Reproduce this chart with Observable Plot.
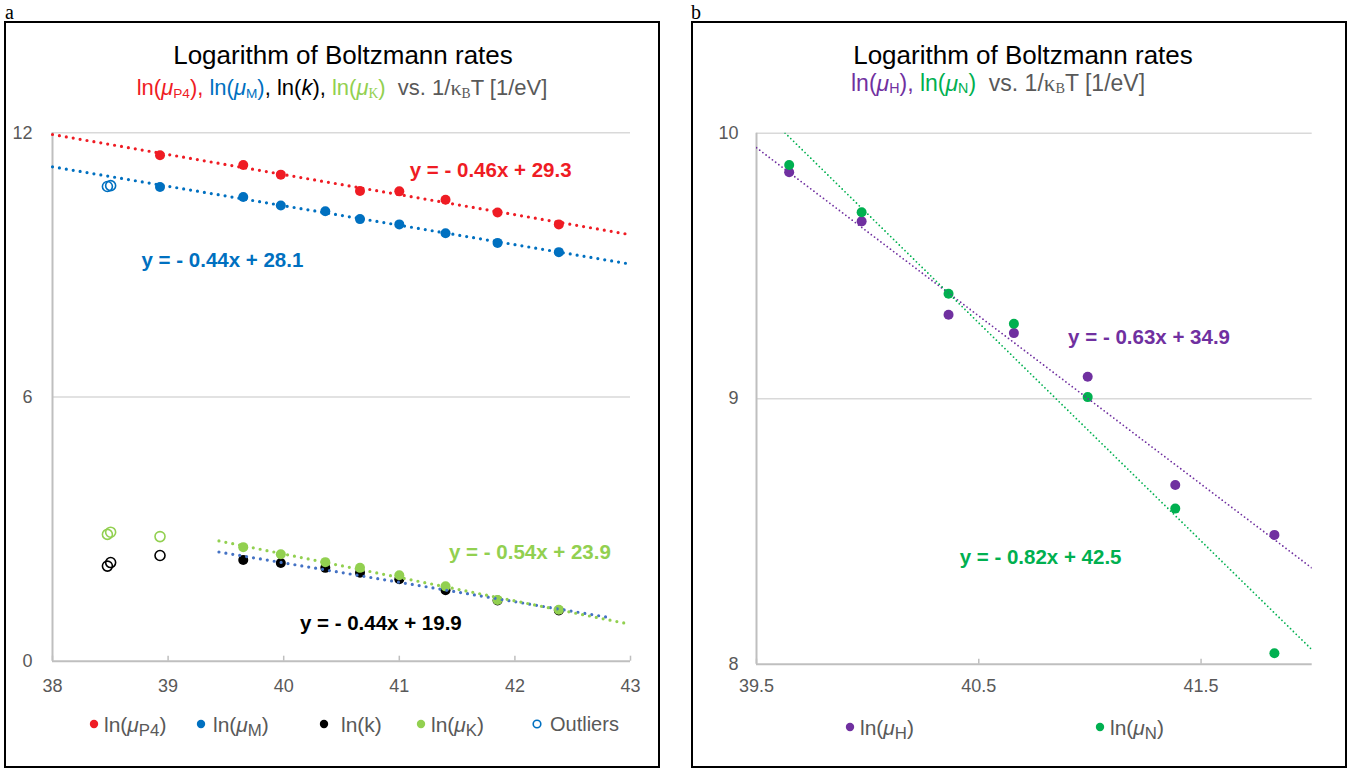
<!DOCTYPE html>
<html>
<head>
<meta charset="utf-8">
<script src="https://cdn.jsdelivr.net/npm/d3@7"></script>
<script src="https://cdn.jsdelivr.net/npm/@observablehq/plot@0.6"></script>
<style>
  body { margin: 0; background: #fff; }
  #page { position: relative; width: 1370px; height: 772px; overflow: hidden; font-family: "Liberation Sans", Arial, sans-serif; }
  .frame { position: absolute; border: 2px solid #000; box-sizing: border-box; }
  .plab { position: absolute; font-family: "Liberation Serif", "Times New Roman", serif; font-size: 20px; line-height: 20px; }
  .title { position: absolute; font-size: 26px; color: #000; white-space: nowrap; transform: translate(-50%, -50%); line-height: 1; }
  .sub { position: absolute; white-space: nowrap; transform: translateY(-50%); line-height: 1; }
  .sub sub { font-size: 0.62em; vertical-align: -0.2em; line-height: 0; }
  .legtxt sub { font-size: 0.8em; vertical-align: -0.25em; line-height: 0; }
  .serif { font-family: "Liberation Serif", "Times New Roman", serif; }
  .chart { position: absolute; top: 0; }
  .legdot { position: absolute; transform: translate(-50%, -50%); }
  .legtxt { position: absolute; font-size: 21px; color: #595959; white-space: nowrap; transform: translateY(-50%); line-height: 1; }
</style>
</head>
<body>
<div id="page">
  <div class="plab" style="left:5px;top:2px">a</div>
  <div class="plab" style="left:691px;top:2px">b</div>
  <div class="frame" style="left:4px;top:21px;width:656px;height:747px"></div>
  <div class="frame" style="left:691px;top:21px;width:656px;height:747px"></div>

  <div class="title" style="left:343px;top:55px">Logarithm of Boltzmann rates</div>
  <div class="sub" id="subA" style="top:88px;font-size:22px">
    <span style="color:#EF1C24">ln(<i>μ</i><sub>P4</sub>),</span>
    <span style="color:#0070C0">ln(<i>μ</i><sub>M</sub>)</span>, ln(<i>k</i>),
    <span style="color:#92D050">ln(<i>μ</i><sub class="serif">K</sub>)</span>&nbsp;
    <span style="color:#595959">vs. 1/<span class="serif">κ<sub>B</sub></span>T [1/eV]</span>
  </div>

  <div class="title" style="left:1023px;top:55px">Logarithm of Boltzmann rates</div>
  <div class="sub" id="subB" style="left:851px;top:83px;font-size:23px">
    <span style="color:#7030A0">ln(<i>μ</i><sub>H</sub>),</span>
    <span style="color:#00B050">ln(<i>μ</i><sub>N</sub>)</span>&nbsp;
    <span style="color:#595959">vs. 1/<span class="serif">κ<sub>B</sub></span>T [1/eV]</span>
  </div>

  <div id="chartA" class="chart" style="left:0px"></div>
  <div id="chartB" class="chart" style="left:690px"></div>
  <div id="legA"></div>
  <div id="legB"></div>
</div>
<script>
// ---------------- data (panel a) ----------------
const xP4 = [38.93, 39.65, 39.975, 40.66, 41.00, 41.40, 41.85, 42.38];
const lnP4 = [11.49, 11.27, 11.05, 10.68, 10.67, 10.48, 10.19, 9.92];

const xM = [38.93, 39.65, 39.975, 40.36, 40.66, 41.00, 41.40, 41.85, 42.38];
const lnM = [10.77, 10.54, 10.35, 10.22, 10.04, 9.92, 9.72, 9.50, 9.29];

const xK = [39.65, 39.975, 40.36, 40.66, 41.00, 41.40, 41.85, 42.38];
const lnk = [2.30, 2.23, 2.12, 2.01, 1.86, 1.61, 1.38, 1.15];
const lnMuK = [2.59, 2.43, 2.25, 2.12, 1.95, 1.70, 1.39, 1.17];

const xOut = [38.475, 38.503, 38.93];
const outM = [10.78, 10.80, null];
const outK = [2.88, 2.93, 2.83];
const outk = [2.16, 2.24, 2.40];

// trendline ranges (forecast extents)
const trendRangeA = { P4: [38, 43], M: [38, 43], k: [39.44, 42.83], K: [39.44, 43] };

const eqA = [
  { text: "y = - 0.46x + 29.3", x: 41.79, y: 11.14, color: "#EF1C24" },
  { text: "y = - 0.44x + 28.1", x: 39.47, y: 9.10, color: "#0070C0" },
  { text: "y = - 0.54x + 23.9", x: 42.13, y: 2.47, color: "#92D050" },
  { text: "y = - 0.44x + 19.9", x: 40.84, y: 0.86, color: "#000000" }
];
const xTicksA = [38, 39, 40, 41, 42, 43];
const yTicksA = [0, 6, 12];

// ---------------- data (panel b) ----------------
const xB = [39.647, 39.973, 40.364, 40.658, 40.99, 41.384, 41.83];
const lnH = [9.853, 9.668, 9.316, 9.247, 9.083, 8.675, 8.487];
const lnN = [9.880, 9.702, 9.395, 9.282, 9.006, 8.586, 8.041];
const trendRangeB = { H: [39.5, 42], N: [39.5, 42] };
const eqB = [
  { text: "y = - 0.63x + 34.9", x: 41.266, y: 9.229, color: "#7030A0" },
  { text: "y = - 0.82x + 42.5", x: 40.778, y: 8.403, color: "#00B050" }
];
const xTicksB = [39.5, 40.5, 41.5];
const yTicksB = [8, 9, 10];

// ---------------- helpers ----------------
const C = { red: "#EF1C24", blue: "#0070C0", black: "#000000", lgreen: "#92D050", tblue: "#4472C4", purple: "#7030A0", green: "#00B050" };
const pts = (xs, ys) => xs.map((x, i) => ({ x, y: ys[i] })).filter(d => d.y != null);
function fit(xs, ys) {
  const mx = d3.mean(xs), my = d3.mean(ys);
  let sxy = 0, sxx = 0;
  xs.forEach((x, i) => { sxy += (x - mx) * (ys[i] - my); sxx += (x - mx) ** 2; });
  const b = sxy / sxx;
  return { a: my - b * mx, b };
}
function trend(xs, ys, range) {
  const { a, b } = fit(xs, ys);
  return range.map(x => ({ x, y: a + b * x }));
}
const font = "Liberation Sans, Arial, sans-serif";
const eqFont = "Liberation Sans, Arial, sans-serif";
const dotA = { strokeWidth: 3.2, strokeDasharray: "0,7", strokeLinecap: "round" };
const dotB = { strokeWidth: 1.8, strokeDasharray: "0,4", strokeLinecap: "round" };

// ---------------- panel a ----------------
const chartA = Plot.plot({
  width: 680, height: 772,
  marginLeft: 52, marginRight: 50, marginTop: 132.3, marginBottom: 111.3,
  x: { domain: [38, 43], label: null },
  y: { domain: [0, 12], label: null },
  style: { fontFamily: font, background: "transparent", overflow: "visible" },
  marks: [
    Plot.ruleY(yTicksA.filter(d => d > 0), { stroke: "#D9D9D9", strokeWidth: 1.5 }),
    Plot.ruleX([38], { stroke: "#BFBFBF", strokeWidth: 2 }),
    Plot.ruleY([0], { stroke: "#BFBFBF", strokeWidth: 2 }),
    Plot.axisX(xTicksA, { tickSize: 5, dy: -5, tickFormat: () => "", stroke: "#BFBFBF", strokeWidth: 1.5, label: null }),
    Plot.axisX(xTicksA, { tickSize: 0, tickPadding: 18, fontSize: 18, fill: "#595959", label: null, tickFormat: d => String(d) }),
    Plot.axisY(yTicksA, { tickSize: 0, tickPadding: 20, fontSize: 18, fill: "#595959", label: null, tickFormat: d => String(d) }),
    // outliers
    Plot.dot(pts(xOut, outM), { x: "x", y: "y", r: 5, stroke: C.blue, strokeWidth: 1.6, fill: "none" }),
    Plot.dot(pts(xOut, outK), { x: "x", y: "y", r: 5, stroke: C.lgreen, strokeWidth: 1.6, fill: "none" }),
    Plot.dot(pts(xOut, outk), { x: "x", y: "y", r: 5, stroke: C.black, strokeWidth: 1.6, fill: "none" }),
    // series
    Plot.dot(pts(xP4, lnP4), { x: "x", y: "y", r: 5, fill: C.red }),
    Plot.dot(pts(xM, lnM), { x: "x", y: "y", r: 5, fill: C.blue }),
    Plot.dot(pts(xK, lnk), { x: "x", y: "y", r: 5, fill: C.black }),
    Plot.dot(pts(xK, lnMuK), { x: "x", y: "y", r: 5, fill: C.lgreen }),
    // trendlines
    Plot.line(trend(xP4, lnP4, trendRangeA.P4), { x: "x", y: "y", stroke: C.red, ...dotA }),
    Plot.line(trend(xM, lnM, trendRangeA.M), { x: "x", y: "y", stroke: C.blue, ...dotA }),
    Plot.line(trend(xK, lnk, trendRangeA.k), { x: "x", y: "y", stroke: C.tblue, ...dotA }),
    Plot.line(trend(xK, lnMuK, trendRangeA.K), { x: "x", y: "y", stroke: C.lgreen, ...dotA }),
    // equations
    Plot.text(eqA, { x: "x", y: "y", text: "text", fill: "color", fontSize: 20.5, fontWeight: "bold", fontFamily: eqFont, textAnchor: "middle" })
  ]
});
document.getElementById("chartA").append(chartA);

// ---------------- panel b ----------------
const chartB = Plot.plot({
  width: 680, height: 772,
  marginLeft: 66, marginRight: 58.3, marginTop: 132.7, marginBottom: 108.3,
  x: { domain: [39.5, 42], label: null },
  y: { domain: [8, 10], label: null },
  style: { fontFamily: font, background: "transparent", overflow: "visible" },
  marks: [
    Plot.ruleY(yTicksB.filter(d => d > 8), { stroke: "#D9D9D9", strokeWidth: 1.5 }),
    Plot.ruleX([39.5], { stroke: "#BFBFBF", strokeWidth: 2 }),
    Plot.ruleY([8], { stroke: "#BFBFBF", strokeWidth: 2 }),
    Plot.axisX(xTicksB, { tickSize: 5, dy: -5, tickFormat: () => "", stroke: "#BFBFBF", strokeWidth: 1.5, label: null }),
    Plot.axisX(xTicksB, { tickSize: 0, tickPadding: 15, fontSize: 18, fill: "#595959", label: null, tickFormat: d => String(d) }),
    Plot.axisY(yTicksB, { tickSize: 0, tickPadding: 18, fontSize: 18, fill: "#595959", label: null, tickFormat: d => String(d) }),
    Plot.dot(pts(xB, lnH), { x: "x", y: "y", r: 5, fill: C.purple }),
    Plot.dot(pts(xB, lnN), { x: "x", y: "y", r: 5, fill: C.green }),
    Plot.line(trend(xB, lnH, trendRangeB.H), { x: "x", y: "y", stroke: C.purple, ...dotB, clip: true }),
    Plot.line(trend(xB, lnN, trendRangeB.N), { x: "x", y: "y", stroke: C.green, ...dotB, clip: true }),
    Plot.text(eqB, { x: "x", y: "y", text: "text", fill: "color", fontSize: 20.5, fontWeight: "bold", fontFamily: eqFont, textAnchor: "middle" })
  ]
});
document.getElementById("chartB").append(chartB);

// ---------------- subtitle centring (panel a) ----------------
const subA = document.getElementById("subA");
subA.style.left = (342 - subA.getBoundingClientRect().width / 2) + "px";

// ---------------- legends ----------------
const legendA = [
  { html: "ln(<i>μ</i><sub>P4</sub>)", color: C.red, open: false },
  { html: "ln(<i>μ</i><sub>M</sub>)", color: C.blue, open: false },
  { html: "ln(k)", color: C.black, open: false },
  { html: "ln(<i>μ</i><sub>K</sub>)", color: C.lgreen, open: false },
  { html: "Outliers", color: C.blue, open: true }
];
const legendB = [
  { html: "ln(<i>μ</i><sub>H</sub>)", color: C.purple, open: false },
  { html: "ln(<i>μ</i><sub>N</sub>)", color: C.green, open: false }
];
const legLayoutA = { y: 724, dot: [93.7, 200.8, 324, 420.5, 537], txt: [104, 213, 341, 431, 550], size: [21, 21, 21, 21, 20] };
const legLayoutB = { y: 726.7, dot: [849.8, 1099.6], txt: [860, 1110], size: [21, 21] };
function drawLegend(el, items, lay) {
  items.forEach((it, i) => {
    const d = document.createElement("div");
    d.className = "legdot";
    d.style.left = lay.dot[i] + "px"; d.style.top = lay.y + "px";
    d.innerHTML = it.open
      ? `<svg width="10" height="10"><circle cx="5" cy="5" r="3.8" fill="none" stroke="${it.color}" stroke-width="1.6"/></svg>`
      : `<svg width="10" height="10"><circle cx="5" cy="5" r="4.2" fill="${it.color}"/></svg>`;
    el.append(d);
    const t = document.createElement("div");
    t.className = "legtxt";
    t.style.left = lay.txt[i] + "px"; t.style.top = lay.y + "px";
    t.style.fontSize = lay.size[i] + "px";
    t.innerHTML = it.html;
    el.append(t);
  });
}
drawLegend(document.getElementById("legA"), legendA, legLayoutA);
drawLegend(document.getElementById("legB"), legendB, legLayoutB);
</script>
</body>
</html>
